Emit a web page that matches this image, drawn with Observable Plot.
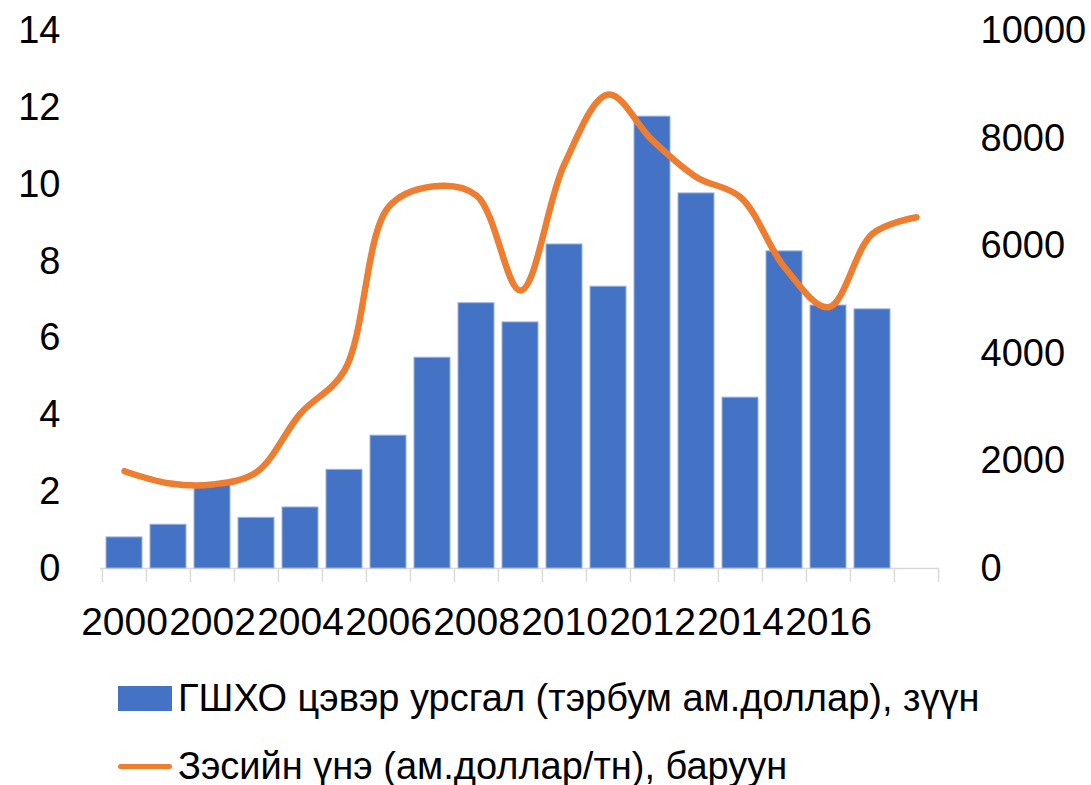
<!DOCTYPE html>
<html><head><meta charset="utf-8">
<script src="https://cdn.jsdelivr.net/npm/d3@7"></script>
<script src="https://cdn.jsdelivr.net/npm/@observablehq/plot@0.6"></script>
<style>
body{margin:0;background:#fff;font-family:"Liberation Sans",Arial,sans-serif;}
#legend{margin-top:14px}
.row{height:68px;display:flex;align-items:center;padding-left:118px;font-size:38px;color:#000;white-space:nowrap}
.sw{width:54px;height:25px;background:#4472C4;margin-right:6px;flex:none}
.ln{width:54px;height:5px;background:#ED7D31;border-radius:3px;margin-right:6px;flex:none}
</style></head><body>
<div id="chart"></div>
<div id="legend"></div>
<script>
const years = [2000,2001,2002,2003,2004,2005,2006,2007,2008,2009,2010,2011,2012,2013,2014,2015,2016,2017,2018];
const fdi = [0.81,1.14,2.2,1.32,1.59,2.57,3.46,5.49,6.91,6.41,8.44,7.34,11.77,9.77,4.45,8.26,6.85,6.75,null];
const copper = [1810,1587,1563,1792,2884,3684,6722,7107,6940,5172,7529,8819,7963,7280,6908,5605,4861,6227,6536];
const leftTicks = [0,2,4,6,8,10,12,14];
const rightTicks = [0,2000,4000,6000,8000,10000];
const xLabels = [2000,2002,2004,2006,2008,2010,2012,2014,2016];
const seriesNames = ["ГШХО цэвэр урсгал (тэрбум ам.доллар), зүүн","Зэсийн үнэ (ам.доллар/тн), баруун"];
const leftMax = 14, rightMax = 10000;

const W = 1091, H = 650, mL = 100, mR = 152, mT = 30.5, mB = 82;
const step = (W - mL - mR) / years.length;
const bars = years.map((y,i)=>({year:y, v:fdi[i]})).filter(d=>d.v!=null);
const line = years.map((y,i)=>({year:y, p:copper[i]*leftMax/rightMax}));
const font = "'Liberation Sans', Arial, sans-serif";

const chart = Plot.plot({
  width: W, height: H, marginLeft: mL, marginRight: mR, marginTop: mT, marginBottom: mB,
  style: {fontFamily: font, fontSize: "38px", color: "#000", background: "#fff", overflow: "visible"},
  x: {type: "band", domain: years, paddingInner: 0.19, paddingOuter: 0.095},
  y: {domain: [0, leftMax]},
  marks: [
    Plot.ruleY([0], {stroke: "#d9d9d9", strokeWidth: 1.5}),
    Plot.ruleX(years, {x: d=>d, y1: 0, y2: 0, insetBottom: -14, dx: -step/2, stroke: "#d9d9d9", strokeWidth: 1.5}),
    Plot.ruleX([years[years.length-1]], {x: d=>d, y1: 0, y2: 0, insetBottom: -14, dx: step/2, stroke: "#d9d9d9", strokeWidth: 1.5}),
    Plot.barY(bars, {x: "year", y: "v", fill: "#4472C4", stroke: "#9DB4E0", strokeWidth: 1}),
    Plot.line(line, {x: "year", y: "p", stroke: "#ED7D31", strokeWidth: 6.5, curve: "catmull-rom", strokeLinecap: "round", strokeLinejoin: "round"}),
    Plot.axisY(leftTicks, {anchor: "left", tickSize: 0, tickPadding: 40, label: null, fontSize: 38}),
    Plot.axisY(rightTicks.map(v=>v*leftMax/rightMax), {anchor: "right", tickSize: 0, tickPadding: 41, label: null, fontSize: 38, tickFormat: d => String(Math.round(d*rightMax/leftMax))}),
    Plot.axisX(xLabels, {anchor: "bottom", tickSize: 0, tickPadding: 39, label: null, fontSize: 39, tickFormat: d => String(d)})
  ]
});
document.getElementById("chart").appendChild(chart);

const legend = document.getElementById("legend");
seriesNames.forEach((name, i) => {
  const row = document.createElement("div");
  row.className = "row";
  const sym = document.createElement("div");
  sym.className = i === 0 ? "sw" : "ln";
  const t = document.createElement("span");
  t.textContent = name;
  row.appendChild(sym); row.appendChild(t);
  legend.appendChild(row);
});
</script>
</body></html>
